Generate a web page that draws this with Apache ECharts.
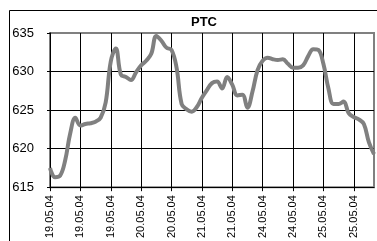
<!DOCTYPE html>
<html>
<head>
<meta charset="utf-8">
<script src="https://cdn.jsdelivr.net/npm/echarts@6/dist/echarts.min.js"></script>
<style>
html,body{margin:0;padding:0;background:#fff;}
#chart{width:377px;height:241px;}
</style>
</head>
<body>
<div id="chart"></div>
<script>
var title_text = 'PTC'
var y_ticks = [615, 620, 625, 630, 635]
var dates = [
	'19.05.04','19.05.04','19.05.04','19.05.04','19.05.04','19.05.04',
	'19.05.04','19.05.04','19.05.04','19.05.04','19.05.04','19.05.04',
	'19.05.04','19.05.04','19.05.04','19.05.04','19.05.04','19.05.04',
	'20.05.04','20.05.04','20.05.04','20.05.04','20.05.04','20.05.04',
	'20.05.04','20.05.04','20.05.04','20.05.04','20.05.04','20.05.04',
	'21.05.04','21.05.04','21.05.04','21.05.04','21.05.04','21.05.04',
	'21.05.04','21.05.04','21.05.04','21.05.04','21.05.04','21.05.04',
	'24.05.04','24.05.04','24.05.04','24.05.04','24.05.04','24.05.04',
	'24.05.04','24.05.04','24.05.04','24.05.04','24.05.04','24.05.04',
	'25.05.04','25.05.04','25.05.04','25.05.04','25.05.04','25.05.04',
	'25.05.04','25.05.04','25.05.04','25.05.04','25.05.04'
]
var price = [
	617.5,616.3,616.5,618.5,622.0,624.0,623.0,623.2,623.3,623.5,
	624.0,626.0,631.3,633.0,629.6,629.3,628.9,629.9,630.8,631.4,
	632.3,634.6,634.0,633.1,632.8,630.5,625.8,625.1,624.8,625.4,
	626.6,627.6,628.5,628.7,627.8,629.3,628.3,626.9,627.0,625.3,
	627.4,630.2,631.4,631.8,631.6,631.5,631.6,631.0,630.5,630.5,
	630.8,632.0,632.9,632.8,631.0,627.8,625.8,625.8,626.1,624.6,
	624.1,623.8,623.2,620.8,619.3
]

var my_chart = echarts.init(document.getElementById('chart'), null, {renderer:'canvas'});
my_chart.setOption({
	backgroundColor:'#fff',
	animation:false,
	textStyle:{fontFamily:'Liberation Sans'},
	title:{
		text:title_text,
		left:191,
		top:16,
		padding:0,
		textStyle:{fontSize:13,fontWeight:'bold',color:'#000',fontFamily:'Liberation Sans'}
	},
	grid:{
		left:50,
		top:33,
		right:3,
		bottom:50,
		show:true,
		borderColor:'#808080',
		borderWidth:2
	},
	xAxis:{
		type:'category',
		boundaryGap:false,
		data:dates,
		axisLine:{lineStyle:{color:'#000',width:1}},
		axisTick:{show:true,interval:5,length:4,inside:false,lineStyle:{color:'#000'}},
		axisLabel:{interval:5,rotate:90,fontSize:11,color:'#000',margin:8,fontFamily:'Liberation Sans'},
		splitLine:{show:true,interval:5,lineStyle:{color:'#000',width:1}}
	},
	yAxis:{
		type:'value',
		min:y_ticks[0],
		max:y_ticks[y_ticks.length-1],
		interval:5,
		axisLine:{show:true,lineStyle:{color:'#000',width:1}},
		axisTick:{show:true,length:3,lineStyle:{color:'#000'}},
		axisLabel:{fontSize:13,color:'#000',margin:16,fontFamily:'Liberation Sans'},
		splitLine:{show:true,lineStyle:{color:['#000','#000','#000','#000','#808080'],width:1}}
	},
	series:[{
		name:title_text,
		type:'line',
		data:price,
		smooth:0.4,
		symbol:'none',
		lineStyle:{color:'#808080',width:4}
	}],
	graphic:[{
		type:'rect',
		silent:true,
		shape:{x:9.5,y:10.5,width:400,height:300},
		style:{fill:null,stroke:'#000',lineWidth:1},
		z:-1
	}]
});
</script>
</body>
</html>
